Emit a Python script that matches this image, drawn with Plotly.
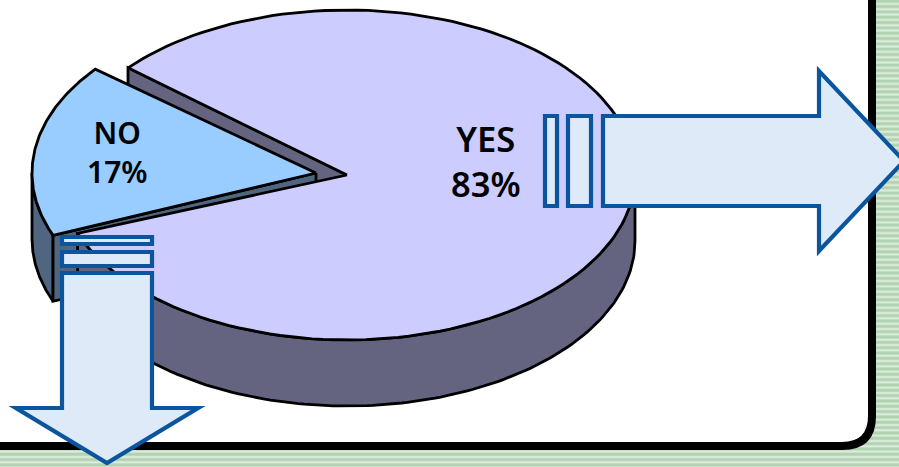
import numpy as np
import plotly.graph_objects as go

labels = ["YES", "NO"]
values = [83, 17]

W, H = 899, 467
YES_C = (347, 175)
NO_C = (316, 173)
YES_RX, NO_RX, RY = 288, 284, 165
DEPTH = 66
NO_START = 141       # angle where the NO slice begins, degrees, screen-up
YES_START = 200.7    # angle where the YES slice begins

YES_TOP = "#CCCCFF"
YES_SIDE = "#646480"
NO_TOP = "#99CCFF"
NO_SIDE = "#506680"
ARROW_LINE = "#0B559E"
ARROW_FILL = "#DEEAF8"
FONT = "Noto Sans"

total = sum(values)
no_end = NO_START + values[1] / total * 360
yes_end = YES_START + values[0] / total * 360


def arc(c, rx, a0, a1, dy=0):
    t = np.radians(np.linspace(a0, a1, 140))
    return c[0] + rx * np.cos(t), c[1] - RY * np.sin(t) + dy


def poly(x, y, color, name):
    return go.Scatter(
        x=list(x) + [x[0]], y=list(y) + [y[0]], mode="lines", fill="toself",
        fillcolor=color, line=dict(color="black", width=2.8), hoverinfo="skip", name=name,
    )


def wall(c, rx, a0, a1, color, name):
    x0, y0 = arc(c, rx, a0, a1)
    x1, y1 = arc(c, rx, a1, a0, DEPTH)
    return poly(np.r_[x0, x1], np.r_[y0, y1], color, name)


def cut_wall(c, rx, a, color, name):
    x, y = arc(c, rx, a, a)
    return poly([c[0], x[0], x[0], c[0]], [c[1], y[0], y[0] + DEPTH, c[1] + DEPTH], color, name)


def wedge(c, rx, a0, a1, color, name):
    x, y = arc(c, rx, a0, a1)
    return poly(np.r_[c[0], x], np.r_[c[1], y], color, name)


fig = go.Figure()
fig.add_trace(cut_wall(YES_C, YES_RX, yes_end, YES_SIDE, "YES cut"))
fig.add_trace(wall(NO_C, NO_RX, 180, no_end, NO_SIDE, "NO wall"))
fig.add_trace(cut_wall(NO_C, NO_RX, no_end, NO_SIDE, "NO cut"))
fig.add_trace(wall(YES_C, YES_RX, YES_START, 360, YES_SIDE, "YES wall"))
fig.add_trace(wedge(YES_C, YES_RX, YES_START, yes_end, YES_TOP, labels[0]))
fig.add_trace(wedge(NO_C, NO_RX, NO_START, no_end, NO_TOP, labels[1]))

shapes = []
# green striped background
shapes.append(dict(type="rect", x0=0, x1=W, y0=0, y1=H, fillcolor="#C6DFC6",
                   line_width=0, layer="below"))
for i in range(0, 90):
    y = i * 5.33
    shapes.append(dict(type="rect", x0=0, x1=W, y0=y, y1=y + 2.4, fillcolor="#B2D3B2",
                       line_width=0, layer="below"))
    shapes.append(dict(type="rect", x0=0, x1=W, y0=y + 3.2, y1=y + 4.6, fillcolor="#DCEBDC",
                       line_width=0, layer="below"))
# white panel with black rounded border
shapes.append(dict(
    type="path", layer="below",
    path="M -20 -20 L 872 -20 L 872 416 Q 872 446 842 446 L -20 446 Z",
    fillcolor="white", line=dict(color="black", width=8),
))


def box(pts):
    return dict(type="path", layer="above",
                path="M " + " L ".join(f"{x} {y}" for x, y in pts) + " Z",
                fillcolor=ARROW_FILL, line=dict(color=ARROW_LINE, width=4.2))


# right arrow
shapes.append(box([(603, 116), (819, 116), (819, 71), (904, 161), (819, 251), (819, 206), (603, 206)]))
shapes.append(box([(545, 116), (557, 116), (557, 206), (545, 206)]))
shapes.append(box([(568, 116), (591, 116), (591, 206), (568, 206)]))
# down arrow
shapes.append(box([(62, 273), (152, 273), (152, 408), (198, 408), (107, 463), (16, 408), (62, 408)]))
shapes.append(box([(62, 237), (152, 237), (152, 244), (62, 244)]))
shapes.append(box([(62, 252), (152, 252), (152, 266), (62, 266)]))

annotations = []
for text, x, y, size in [
    (f"{labels[0]}<br>{values[0]}%", 485.5, 161, 34.5),
    (f"{labels[1]}<br>{values[1]}%", 117, 152, 30),
]:
    annotations.append(dict(x=x, y=y, text=text, showarrow=False, xanchor="center",
                            yanchor="middle",
                            font=dict(family=FONT, size=size, color="black", weight=600)))

fig.update_layout(
    width=W, height=H, autosize=False, margin=dict(l=0, r=0, t=0, b=0),
    showlegend=False, paper_bgcolor="white", plot_bgcolor="rgba(0,0,0,0)",
    xaxis=dict(range=[0, W], visible=False, fixedrange=True),
    yaxis=dict(range=[H, 0], visible=False, fixedrange=True),
    shapes=shapes, annotations=annotations,
)
fig.write_html("out.html", config=dict(displayModeBar=False),
               post_script="document.body.style.margin='0';document.documentElement.style.overflow='hidden';")
